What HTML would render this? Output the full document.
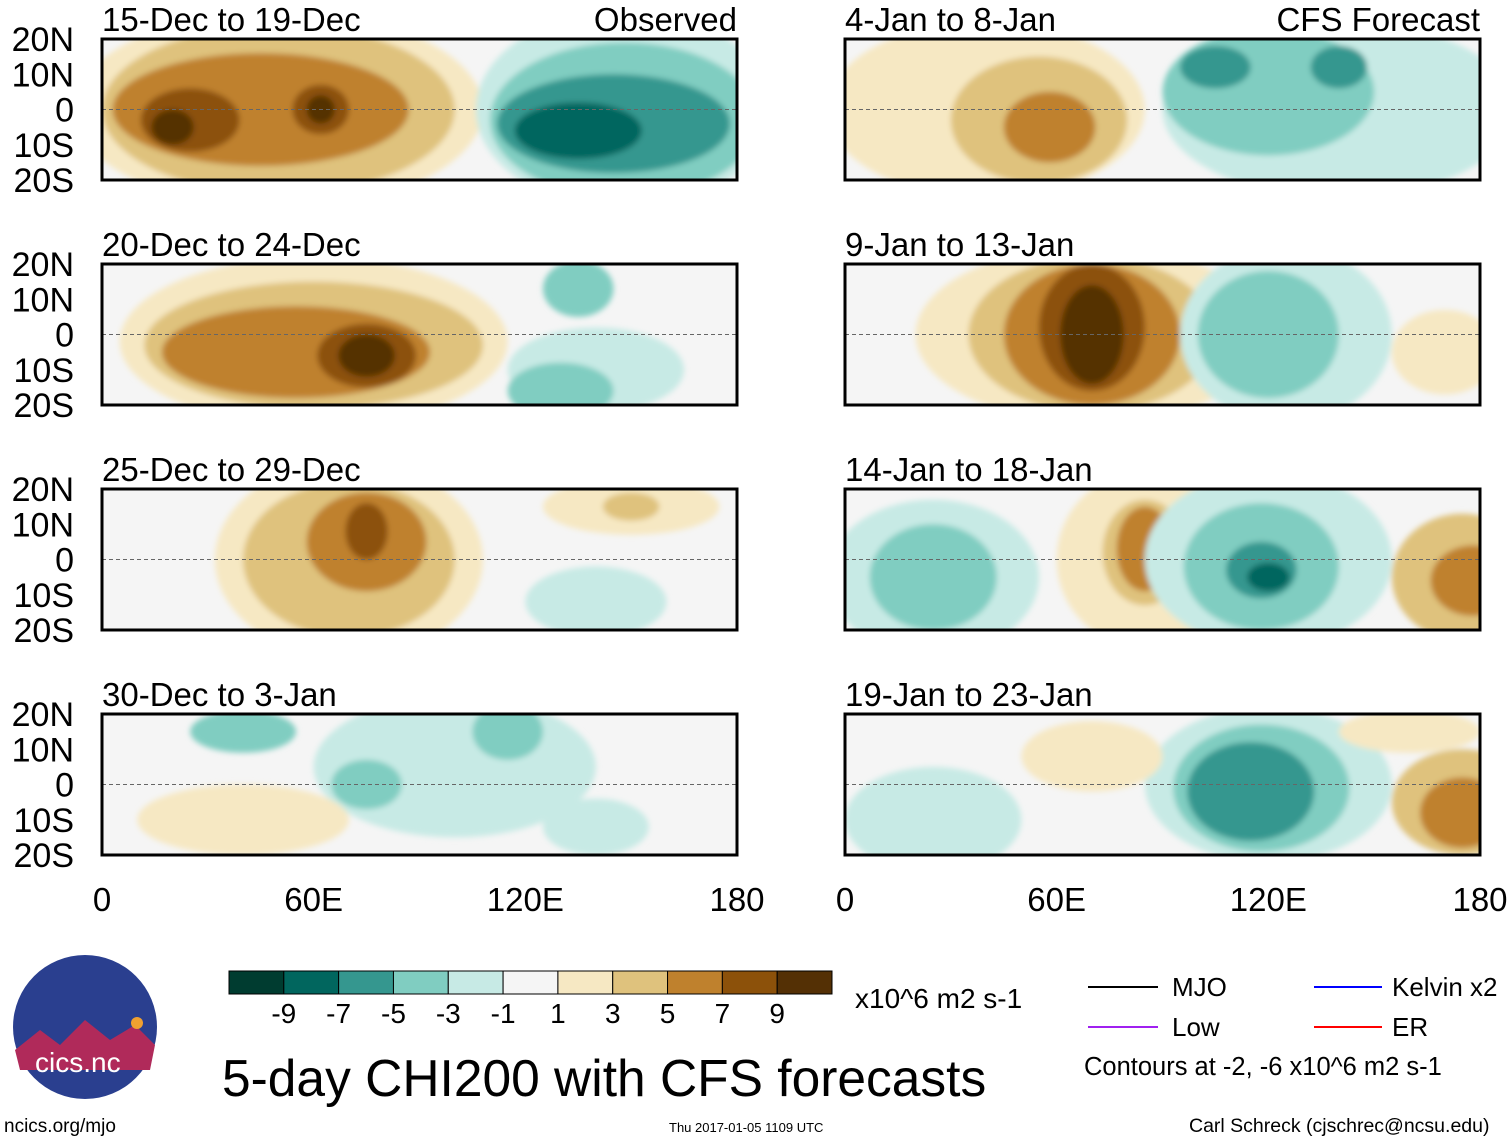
<!DOCTYPE html>
<html><head><meta charset="utf-8">
<style>
body{margin:0;background:#fff;width:1510px;height:1142px;overflow:hidden;font-family:"Liberation Sans",sans-serif}
svg{position:absolute;left:0;top:0}
</style></head>
<body>
<svg id="chart" width="1510" height="1142" font-family="Liberation Sans, sans-serif">
<defs><filter id="bl" x="-20%" y="-20%" width="140%" height="140%"><feGaussianBlur stdDeviation="3"/></filter></defs>
<g id="panels"></g>
<g id="colorbar"></g>
<text x="855" y="1008" font-size="28">x10^6 m2 s-1</text>
<g>
<circle cx="85" cy="1027" r="72" fill="#2a3f8f"/>
<path d="M15 1050 L40 1030 L60 1045 L85 1020 L110 1040 L135 1025 L155 1045 L150 1070 L20 1070Z" fill="#b02a5a"/>
<circle cx="137" cy="1023" r="6" fill="#f0a030"/>
<text x="35" y="1072" font-size="28" fill="#fff">cics.nc</text>
</g>
<text x="222" y="1096" font-size="51.5">5-day CHI200 with CFS forecasts</text>
<g font-size="26">
<line x1="1088" y1="987" x2="1158" y2="987" stroke="#000" stroke-width="2"/><text x="1172" y="996">MJO</text>
<line x1="1314" y1="987" x2="1382" y2="987" stroke="#0000ff" stroke-width="2"/><text x="1392" y="996">Kelvin x2</text>
<line x1="1088" y1="1027" x2="1158" y2="1027" stroke="#a020f0" stroke-width="2"/><text x="1172" y="1036">Low</text>
<line x1="1314" y1="1027" x2="1382" y2="1027" stroke="#ff0000" stroke-width="2"/><text x="1392" y="1036">ER</text>
<text x="1084" y="1075" font-size="25.5">Contours at -2, -6 x10^6 m2 s-1</text>
</g>
<text x="4" y="1132" font-size="19">ncics.org/mjo</text>
<text x="669" y="1132" font-size="13">Thu 2017-01-05 1109 UTC</text>
<text x="1189" y="1132" font-size="19.5">Carl Schreck (cjschrec@ncsu.edu)</text>
</svg>
<script>
const colorLevels=[-10,-8,-6,-4,-2,0,2,4,6,8,10];
const colorHex=["#003c30","#01665e","#35978f","#80cdc1","#c7eae5","#f5f5f5","#f6e8c3","#dfc27d","#bf812d","#8c510a","#543005"];
const tickLabels=["-9","-7","-5","-3","-1","1","3","5","7","9"];
const panelTitles=["15-Dec to 19-Dec","20-Dec to 24-Dec","25-Dec to 29-Dec","30-Dec to 3-Jan","4-Jan to 8-Jan","9-Jan to 13-Jan","14-Jan to 18-Jan","19-Jan to 23-Jan"];
const latLabels=["20N","10N","0","10S","20S"];
const latValues=[20,10,0,-10,-20];
const lonLabels=["0","60E","120E","180"];
const lonValues=[0,60,120,180];
// blobs: [lon, lat, rxDeg, ryDeg, level]
const blobs0=[[50,0,58,28,2],[50,0,50,24,4],[45,0,42,16,6],[25,-3,14,9,8],[62,0,8,7,8],[20,-5,6,5,10],[62,0,4,4,10],[148,0,42,28,-2],[148,-3,38,22,-4],[145,-4,33,14,-6],[135,-6,18,8,-8]];
const blobs1=[[60,-2,55,24,2],[60,-3,48,18,4],[55,-5,38,13,6],[75,-6,14,9,8],[75,-6,8,6,10],[135,13,10,8,-4],[140,-10,25,12,-2],[130,-16,15,8,-4]];
const blobs2=[[70,0,38,28,2],[70,0,30,22,4],[75,5,17,14,6],[75,8,6,8,8],[140,-12,20,10,-2],[150,15,25,8,2],[150,15,8,4,4]];
const blobs3=[[100,5,40,20,-2],[75,0,10,7,-4],[115,15,10,8,-4],[40,-10,30,10,2],[40,15,15,6,-4],[140,-12,15,8,-2]];
const blobs4=[[40,0,45,25,2],[55,-3,25,18,4],[58,-5,13,10,6],[140,0,50,25,-2],[120,5,30,18,-4],[105,12,10,6,-6],[140,12,8,6,-6]];
const blobs5=[[70,0,50,25,2],[70,0,35,22,4],[70,0,25,20,6],[70,2,15,18,8],[70,0,9,14,10],[125,0,30,25,-2],[120,0,20,18,-4],[170,-5,15,12,2]];
const blobs6=[[25,-5,30,22,-2],[25,-5,18,15,-4],[85,0,25,25,2],[85,2,12,15,4],[85,3,8,12,6],[120,0,35,25,-2],[118,-2,22,18,-4],[118,-3,10,8,-6],[120,-5,6,4,-8],[175,-5,20,18,4],[178,-6,12,10,6]];
const blobs7=[[25,-10,25,15,-2],[120,0,35,22,-2],[118,-1,25,18,-4],[115,-2,18,14,-6],[70,8,20,10,2],[175,-5,20,15,4],[175,-8,12,10,6],[160,15,20,6,2]];
const allBlobs=[blobs0,blobs1,blobs2,blobs3,blobs4,blobs5,blobs6,blobs7];

const NS="http://www.w3.org/2000/svg";
const PW=635,PH=141;
const colX=[102,845],rowY=[39,264,489,714];
function mk(t,a,p){const e=document.createElementNS(NS,t);for(const k in a)e.setAttribute(k,a[k]);p.appendChild(e);return e;}
function colorOf(v){let i=colorLevels.indexOf(v);return colorHex[i<0?5:i];}
const G=document.getElementById('panels');
for(let p=0;p<8;p++){
  const px=colX[Math.floor(p/4)],py=rowY[p%4];
  const xS=lon=>px+lon/180*PW, yS=lat=>py+(20-lat)/40*PH;
  const g=mk('g',{},G);
  
  
  const cp=mk('clipPath',{id:'c'+p},g);
  mk('rect',{x:px,y:py,width:PW,height:PH},cp);
  mk('rect',{x:px,y:py,width:PW,height:PH,fill:'#f5f5f5'},g);
  const bg=mk('g',{'clip-path':'url(#c'+p+')'},g);
  const ig=mk('g',{filter:'url(#bl)'},bg);
  allBlobs[p].forEach(b=>{
    const e=mk('ellipse',{cx:xS(b[0]),cy:yS(b[1]),rx:b[2]/180*PW,ry:b[3]/40*PH,fill:colorOf(b[4])},ig);
    
    
  });
  mk('line',{x1:px,x2:px+PW,y1:yS(0),y2:yS(0),stroke:'#666','stroke-dasharray':'4 3','stroke-width':1},g);
  mk('rect',{x:px,y:py,width:PW,height:PH,fill:'none',stroke:'#000','stroke-width':3},g);
  const t=mk('text',{x:px,y:py-8,'font-size':33},g);t.textContent=panelTitles[p];
  
  
  if(p===0){const o=mk('text',{x:px+PW,y:py-8,'font-size':33,'text-anchor':'end'},g);o.textContent='Observed';}
  if(p===4){const o=mk('text',{x:px+PW,y:py-8,'font-size':33,'text-anchor':'end'},g);o.textContent='CFS Forecast';}
  if(p<4){latValues.forEach((v,i)=>{const l=mk('text',{x:74,y:yS(v)+12,'font-size':34,'text-anchor':'end'},g);l.textContent=latLabels[i];
    });}
  if(p%4===3){lonValues.forEach((v,i)=>{const l=mk('text',{x:xS(v),y:911,'font-size':33,'text-anchor':'middle'},g);l.textContent=lonLabels[i];
    });}
}
const CB=document.getElementById('colorbar');
const cbx=229,cbw=603,cby=971,cbh=23,bw=cbw/colorHex.length;
colorHex.forEach((c,i)=>{const r=mk('rect',{x:cbx+i*bw,y:cby,width:bw,height:cbh,fill:c,stroke:'#000','stroke-width':1},CB);
  });
tickLabels.forEach((s,i)=>{const t=mk('text',{x:cbx+(i+1)*bw,y:1023,'font-size':28,'text-anchor':'middle'},CB);t.textContent=s;
  });
</script>
</body></html>
